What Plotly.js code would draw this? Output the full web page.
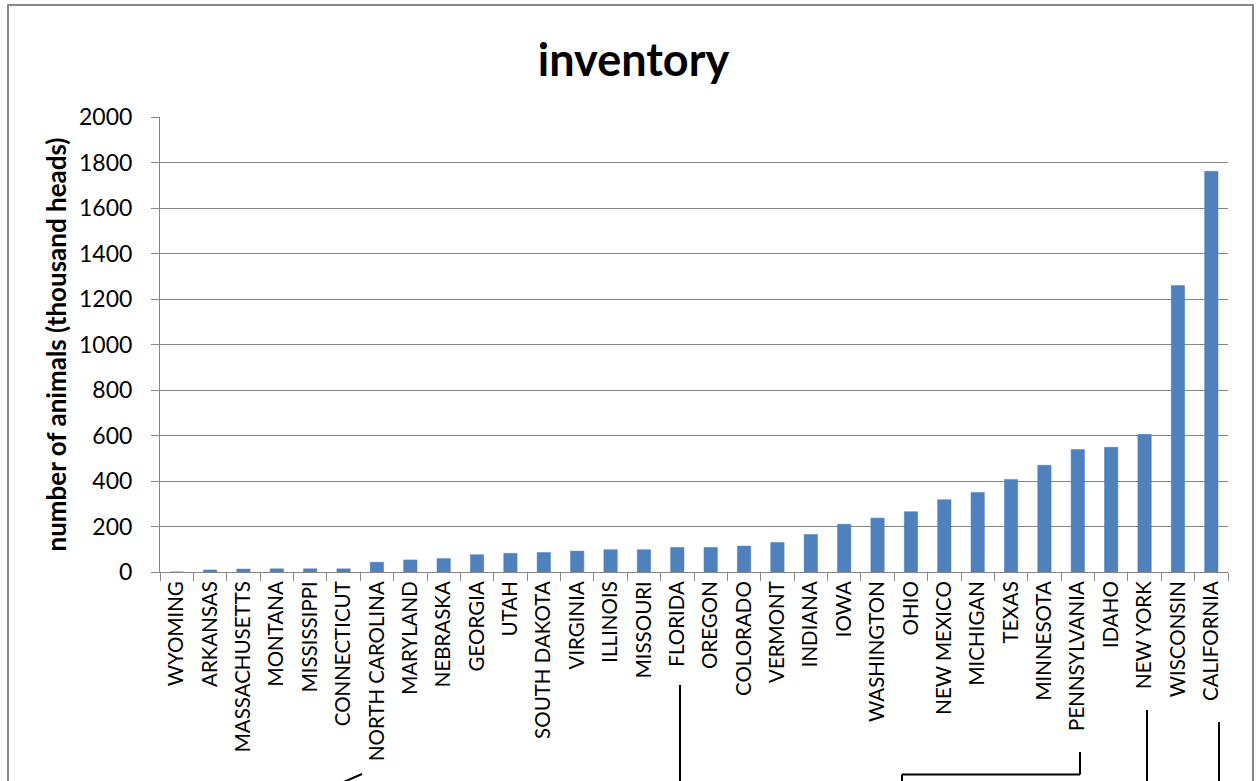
<!DOCTYPE html>
<html>
<head>
<meta charset="utf-8">
<script src="https://cdn.plot.ly/plotly-3.0.1.min.js"></script>
<style>html,body{margin:0;padding:0;background:#fff;overflow:hidden}#chart{width:1257px;height:781px}</style>
</head>
<body>
<div id="chart"></div>
<script>
const states = ["WYOMING","ARKANSAS","MASSACHUSETTS","MONTANA","MISSISSIPPI","CONNECTICUT","NORTH CAROLINA","MARYLAND","NEBRASKA","GEORGIA","UTAH","SOUTH DAKOTA","VIRGINIA","ILLINOIS","MISSOURI","FLORIDA","OREGON","COLORADO","VERMONT","INDIANA","IOWA","WASHINGTON","OHIO","NEW MEXICO","MICHIGAN","TEXAS","MINNESOTA","PENNSYLVANIA","IDAHO","NEW YORK","WISCONSIN","CALIFORNIA"];
const inventory = [0,9,13,14,14,14,43,53,59,76,82,86,92,98,98,108,108,114,130,165,210,237,265,318,350,407,469,538,548,605,1259,1761];
const yTicks = [0,200,400,600,800,1000,1200,1400,1600,1800,2000];

const W = 1257, H = 781;
const L = 160, R = 1228, T = 117, B = 572;
const px = x => (x - L) / (R - L);
const py = y => (B - y) / (B - T);
const line = (x0,y0,x1,y1) => ({type:'line', xref:'paper', yref:'paper', x0:px(x0), y0:py(y0), x1:px(x1), y1:py(y1), line:{color:'#000', width:2}});

const shapes = [
  {type:'rect', xref:'paper', yref:'paper', x0:px(8), y0:py(5), x1:px(1253), y1:py(800), line:{color:'#888888', width:2}, fillcolor:'rgba(0,0,0,0)', layer:'below'},
  line(362,774,339,784),
  line(680,685,680,800),
  line(1080,752,1080,774.5),
  line(1080,774.5,902,774.5),
  line(902,774.5,902,800),
  line(1147,710,1147,800),
  line(1219,722,1219,800)
];

const font = "Lato, 'Open Sans', sans-serif";
Plotly.newPlot('chart', [{
  type:'bar', x:states, y:inventory,
  marker:{color:'#4F81BD', line:{color:'#4A7EBB', width:0.5}},
  hoverinfo:'x+y'
}], {
  width:W, height:H,
  margin:{l:L, r:W-R, t:T, b:H-B},
  paper_bgcolor:'#fff', plot_bgcolor:'#fff',
  bargap:0.6,
  showlegend:false,
  font:{family:font, color:'#000'},
  title:{text:'<b>inventory</b>', xref:'container', x:0.504, xanchor:'center', yref:'container', y:1-60/H, yanchor:'middle', font:{size:45, family:font, color:'#000'}},
  xaxis:{type:'category', tickangle:-90, tickfont:{size:20.5, family:font, color:'#000'},
    showline:true, linecolor:'#868686', linewidth:1, ticks:'outside', ticklen:8, tickcolor:'#868686', tickson:'boundaries',
    showgrid:false, automargin:false},
  yaxis:{range:[0,2000], tickvals:yTicks, ticktext:yTicks.map(String), tickfont:{size:23, family:font, color:'#000'},
    showline:true, linecolor:'#868686', linewidth:1, ticks:'outside', ticklen:8, tickcolor:'#868686', ticklabelstandoff:14,
    showgrid:true, gridcolor:'#868686', gridwidth:1, zeroline:false, automargin:false,
    title:{text:'<b>number of animals (thousand heads)</b>', font:{size:26, family:font, color:'#000'}, standoff:4}},
  shapes:shapes
}, {displayModeBar:false, staticPlot:true});
</script>
</body>
</html>
